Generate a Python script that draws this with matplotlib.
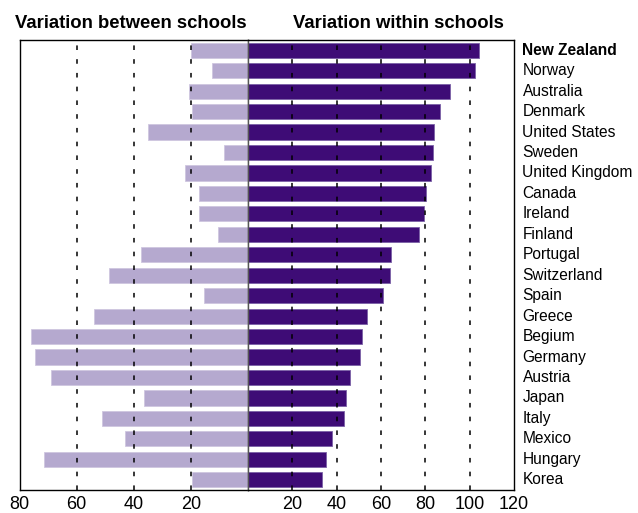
import numpy as np
import matplotlib.pyplot as plt

plt.rcParams['font.family'] = ['Liberation Sans', 'DejaVu Sans']

countries = ['New Zealand', 'Norway', 'Australia', 'Denmark', 'United States', 'Sweden',
             'United Kingdom', 'Canada', 'Ireland', 'Finland', 'Portugal', 'Switzerland',
             'Spain', 'Greece', 'Begium', 'Germany', 'Austria', 'Japan', 'Italy',
             'Mexico', 'Hungary', 'Korea']
between = [20, 12.5, 20.5, 19.5, 35, 8.5, 22, 17, 17, 10.5, 37.5, 48.5,
           15.5, 54, 76, 74.5, 69, 36.5, 51, 43, 71.5, 19.5]
within = [104, 102.5, 91, 86.5, 84, 83.5, 82.5, 80.5, 79.5, 77, 64.5, 64,
          61, 53.5, 51.5, 50.5, 46, 44, 43.5, 38, 35, 33.5]
left_ticks = [80, 60, 40, 20]
right_ticks = [20, 40, 60, 80, 100, 120]

dark = '#3e0c76'
light = '#b5a9cf'

fig = plt.figure(figsize=(6.38, 5.13), dpi=100)
axl = fig.add_axes([0.0306, 0.0448, 0.3581, 0.8772])
axr = fig.add_axes([0.3887, 0.0448, 0.4169, 0.8772])

y = np.arange(len(countries))
axl.barh(y, between, height=0.74, color=light, edgecolor='#cfc6e0', linewidth=0.6, zorder=1)
axr.barh(y, within, height=0.74, color=dark, edgecolor='#7b61a6', linewidth=0.6, zorder=1)

for ax in (axl, axr):
    ax.set_ylim(len(countries) - 0.5, -0.5)
    ax.set_yticks([])
    ax.tick_params(axis='x', length=0, labelsize=13, pad=4)

axl.set_xlim(80, 0)
axl.set_xticks(left_ticks)
axr.set_xlim(0, 120)
axr.set_xticks(right_ticks)

for t in [20, 40, 60]:
    axl.axvline(t, color='black', linestyle=(0, (3, 6)), linewidth=1.1, zorder=3)
for t in [20, 40, 60, 80, 100]:
    axr.axvline(t, color='black', linestyle=(0, (3, 6)), linewidth=1.1, zorder=3)

axl.spines['right'].set_color('#555555')
axr.spines['left'].set_color('#555555')
for ax in (axl, axr):
    for s in ax.spines.values():
        s.set_linewidth(1.0)

for i, c in enumerate(countries):
    axr.text(1.032, i, c, transform=axr.get_yaxis_transform(), va='center', ha='left',
             fontsize=11.2, fontweight='bold' if i == 0 else 'normal')

fig.text(0.205, 0.955, 'Variation between schools', ha='center', va='center',
         fontsize=13.3, fontweight='bold')
fig.text(0.459, 0.955, 'Variation within schools', ha='left', va='center',
         fontsize=13.3, fontweight='bold')

fig.savefig('out.png', dpi=100)
